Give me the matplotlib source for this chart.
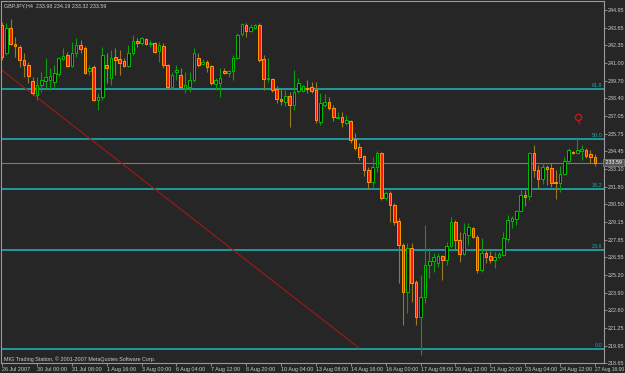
import matplotlib.pyplot as plt
import numpy as np

# GBPJPY H4 candles
opens = [243.84, 241.75, 243.61, 242.42, 242.20, 241.23, 240.86, 239.67, 238.62, 239.37,
         239.67, 239.74, 239.59, 240.19, 241.30, 241.60, 240.78, 241.75, 242.35, 242.12,
         240.41, 240.71, 238.25, 238.47, 240.86, 239.89, 241.45, 241.30, 241.16, 240.78,
         241.75, 242.65, 242.50, 242.79, 242.42, 242.50, 241.90, 242.27, 240.86, 239.22,
         240.34, 240.11, 239.14, 239.22, 239.74, 241.38, 240.93, 241.08, 240.78, 239.44,
         239.52, 240.41, 240.26, 240.41, 241.38, 243.17, 243.84, 243.39, 243.61, 243.84,
         241.30, 239.81, 239.81, 239.07, 238.32, 238.10, 238.55, 237.88, 238.92, 238.92,
         239.14, 239.22, 239.00, 236.61, 237.88, 238.10, 237.65, 236.91, 236.98, 236.54,
         236.69, 235.34, 234.75, 234.08, 233.04, 232.14, 233.26, 234.30, 230.95, 231.32,
         230.43, 229.24, 227.45, 223.95, 227.22, 224.69, 222.08, 223.57, 225.96, 226.26,
         226.11, 226.63, 226.33, 227.37, 229.16, 227.82, 226.78, 228.19, 228.71, 228.04,
         225.59, 226.85, 226.63, 226.33, 226.55, 226.70, 227.89, 229.24, 229.38, 229.98,
         231.17, 231.10, 234.30, 233.04, 232.36, 233.26, 233.18, 232.14, 232.07, 232.74,
         233.71, 234.38, 234.30, 234.45, 234.53, 234.23, 233.98]
highs = [244.06, 243.99, 244.28, 242.94, 242.35, 241.75, 241.08, 239.96, 239.96, 240.34,
         241.38, 240.63, 240.86, 241.45, 242.12, 241.83, 242.57, 242.87, 242.72, 242.27,
         240.86, 240.86, 238.77, 242.20, 241.75, 241.98, 242.12, 241.98, 241.38, 242.35,
         243.09, 242.87, 242.94, 242.87, 242.72, 242.57, 242.57, 242.50, 240.93, 240.34,
         240.86, 240.63, 240.34, 240.34, 242.12, 241.75, 241.30, 241.23, 240.86, 239.89,
         240.63, 240.63, 240.49, 241.60, 243.24, 243.99, 243.99, 243.91, 243.91, 243.99,
         241.60, 241.38, 239.89, 239.29, 239.14, 239.00, 238.85, 240.49, 239.89, 239.37,
         239.74, 239.59, 239.59, 238.77, 238.70, 238.47, 237.88, 237.36, 237.36, 237.13,
         236.76, 235.79, 235.05, 234.15, 233.26, 234.00, 234.45, 234.38, 231.47, 231.47,
         230.58, 229.46, 227.60, 227.60, 227.60, 224.84, 225.21, 228.94, 227.22, 226.85,
         226.85, 226.70, 227.67, 229.53, 229.31, 228.42, 229.09, 229.09, 228.79, 228.19,
         227.97, 227.08, 227.00, 226.93, 226.93, 228.42, 229.68, 229.61, 230.06, 231.55,
         231.55, 234.38, 234.90, 233.41, 233.56, 233.41, 233.56, 233.04, 233.33, 234.00,
         234.67, 234.45, 235.49, 234.90, 234.67, 234.53, 234.19]
lows = [241.23, 241.60, 242.35, 241.45, 240.71, 239.96, 239.52, 238.62, 238.25, 238.85,
        239.14, 239.00, 239.22, 240.04, 241.23, 240.71, 240.71, 241.45, 241.75, 240.19,
        240.11, 238.18, 237.51, 238.25, 239.52, 239.37, 240.11, 240.11, 240.71, 240.71,
        241.60, 242.20, 242.35, 242.35, 242.20, 241.75, 241.08, 240.63, 239.14, 239.07,
        239.74, 239.07, 238.77, 238.85, 239.59, 240.71, 240.86, 240.34, 239.37, 239.00,
        238.47, 240.19, 239.96, 239.74, 241.30, 243.02, 242.94, 243.32, 243.54, 241.08,
        239.00, 239.59, 238.85, 238.03, 237.88, 237.80, 236.24, 237.51, 238.77, 238.85,
        238.77, 238.77, 236.54, 236.39, 237.73, 237.51, 236.69, 236.91, 236.24, 236.39,
        235.05, 234.53, 233.78, 232.59, 231.62, 231.77, 232.89, 230.80, 230.80, 229.16,
        228.94, 224.62, 221.49, 222.38, 223.20, 221.49, 219.25, 223.13, 224.99, 225.44,
        225.81, 224.84, 225.96, 227.30, 227.08, 226.18, 226.70, 227.45, 227.97, 225.36,
        225.44, 226.11, 226.11, 225.73, 226.48, 226.63, 227.67, 228.71, 228.94, 229.91,
        230.35, 230.80, 232.51, 231.69, 231.99, 231.92, 231.77, 230.87, 231.40, 232.66,
        233.63, 234.23, 234.30, 233.78, 233.93, 233.56, 233.32]
closes = [241.45, 243.61, 242.42, 242.27, 241.23, 240.86, 240.04, 238.77, 239.37, 239.74,
          239.96, 240.04, 240.26, 241.38, 241.53, 240.78, 241.75, 242.35, 242.05, 240.26,
          240.63, 238.25, 238.47, 241.60, 240.63, 241.38, 241.23, 241.01, 240.78, 241.75,
          242.65, 242.50, 242.87, 242.42, 242.50, 241.83, 242.35, 240.86, 239.22, 240.11,
          240.49, 239.22, 239.37, 239.74, 241.75, 240.86, 241.08, 240.71, 239.52, 239.74,
          239.89, 240.26, 240.41, 241.38, 243.09, 243.91, 243.39, 243.69, 243.84, 241.23,
          239.81, 239.89, 239.00, 238.32, 238.18, 238.55, 237.88, 238.85, 239.52, 239.29,
          239.07, 238.92, 236.76, 238.03, 238.10, 237.65, 236.98, 236.98, 236.61, 236.76,
          235.27, 234.67, 234.00, 233.04, 232.14, 233.26, 234.30, 230.95, 231.32, 230.43,
          229.16, 227.45, 223.95, 227.22, 224.62, 222.08, 223.57, 225.96, 226.26, 226.55,
          226.63, 226.33, 227.37, 229.16, 227.82, 226.78, 228.34, 228.79, 228.04, 225.59,
          226.85, 226.55, 226.33, 226.55, 226.78, 227.97, 229.31, 229.46, 229.98, 231.17,
          231.02, 234.30, 233.04, 232.36, 233.26, 233.11, 232.07, 232.07, 232.74, 233.71,
          234.53, 234.30, 234.53, 234.60, 234.08, 234.00, 233.59]

date_labels = ["26 Jul 2007", "30 Jul 00:00", "31 Jul 08:00", "1 Aug 16:00", "3 Aug 00:00",
               "6 Aug 04:00", "7 Aug 12:00", "8 Aug 20:00", "10 Aug 04:00", "13 Aug 08:00",
               "14 Aug 16:00", "16 Aug 00:00", "17 Aug 08:00", "20 Aug 12:00", "21 Aug 20:00",
               "23 Aug 04:00", "24 Aug 12:00", "27 Aug 16:00"]
price_ticks = [218.65, 219.95, 221.25, 222.60, 223.90, 225.20, 226.55, 227.85, 229.15, 230.50,
               231.80, 233.10, 234.45, 235.75, 237.05, 238.40, 239.70, 241.00, 242.35, 243.65,
               244.95]

fib_levels = [0.0, 23.6, 38.2, 50.0, 61.8]
fib_low = 219.67
fib_range = 31.35
bid = 233.59
trend_x = [-0.46, 81.9]
trend_y = [240.58, 219.77]

bg = '#262626'
fg = '#cccccc'
grey = '#9a9a9a'
cyan = '#1fa3a8'
fs = 3.9

fig = plt.figure(figsize=(6.25, 3.73), dpi=100, facecolor=bg)
ax = fig.add_axes([1 / 625, 1 - 363 / 373, 603 / 625, 362 / 373])
ax.set_facecolor(bg)

o = np.array(opens)
h = np.array(highs)
l = np.array(lows)
c = np.array(closes)
x = np.arange(len(o))
up = c >= o

# fib levels + bid line
for lev in fib_levels:
    p = fib_low + fib_range * lev / 100
    ax.axhline(p, color=cyan, lw=1.3, zorder=1)
    ax.text(137.8, p + 0.08, '%.1f' % lev, color=cyan, fontsize=fs,
            ha='right', va='bottom', family='Liberation Sans')
ax.axhline(bid, color='#7a7a7a', lw=0.8, zorder=1)

ax.plot(trend_x, trend_y, color='#a01818', lw=0.8, zorder=1)

# wicks
ax.vlines(x[up], l[up], h[up], color='#109a10', lw=0.8, zorder=2)
ax.vlines(x[~up], l[~up], h[~up], color='#9a7a20', lw=0.8, zorder=2)

# bodies
body = np.maximum(np.abs(c - o), 0.04)
bottom = np.minimum(o, c)
ax.bar(x[up], body[up], bottom=bottom[up], width=0.6, color='#0e0e0e',
       edgecolor='#00c000', lw=0.7, zorder=3)
ax.bar(x[~up], body[~up], bottom=bottom[~up], width=0.6, color='#ff1800',
       edgecolor='#ff9a00', lw=0.7, zorder=3)

# alert icon
ax.plot([132.1], [236.98], marker='o', ms=4.5, mfc='none', mec='#c01818', mew=1, zorder=4)
ax.plot([132.1, 132.6], [236.75, 236.45], color='#c01818', lw=0.8, zorder=4)

ax.set_xlim(-0.25, 138.1)
ax.set_ylim(218.65, 245.63)

ax.yaxis.tick_right()
ax.set_yticks(price_ticks)
ax.set_yticklabels(['%.2f' % v for v in price_ticks])
ax.set_xticks(np.arange(0, 8 * len(date_labels), 8))
ax.set_xticklabels(date_labels)
ax.tick_params(axis='both', colors=grey, labelcolor=fg, labelsize=fs, length=2, width=0.6, pad=1)
for t in ax.get_xticklabels():
    t.set_ha('left')
ax.get_xticklabels()[-1].set_fontsize(3.5)
for t in ax.get_xticklabels() + ax.get_yticklabels():
    t.set_family('Liberation Sans')
for s in ax.spines.values():
    s.set_color(grey)
    s.set_linewidth(0.8)

ax.text(1.0, bid, ' %.2f ' % bid, transform=ax.get_yaxis_transform(), color='white',
        fontsize=fs, va='center', ha='left', family='Liberation Sans', zorder=5,
        bbox=dict(facecolor='#555555', edgecolor='#8a8a8a', pad=0.6, lw=0.5), clip_on=False)

ax.text(0.005, 0.993, 'GBPJPY,H4  233.98 234.19 233.32 233.59', transform=ax.transAxes,
        color=fg, fontsize=fs, va='top', ha='left', family='Liberation Sans')
ax.text(0.005, 0.004, 'MIG Trading Station, \u00a9 2001-2007 MetaQuotes Software Corp.',
        transform=ax.transAxes, color=fg, fontsize=fs, va='bottom', ha='left',
        family='Liberation Sans')

fig.savefig('out.png', dpi=100, facecolor=bg)
